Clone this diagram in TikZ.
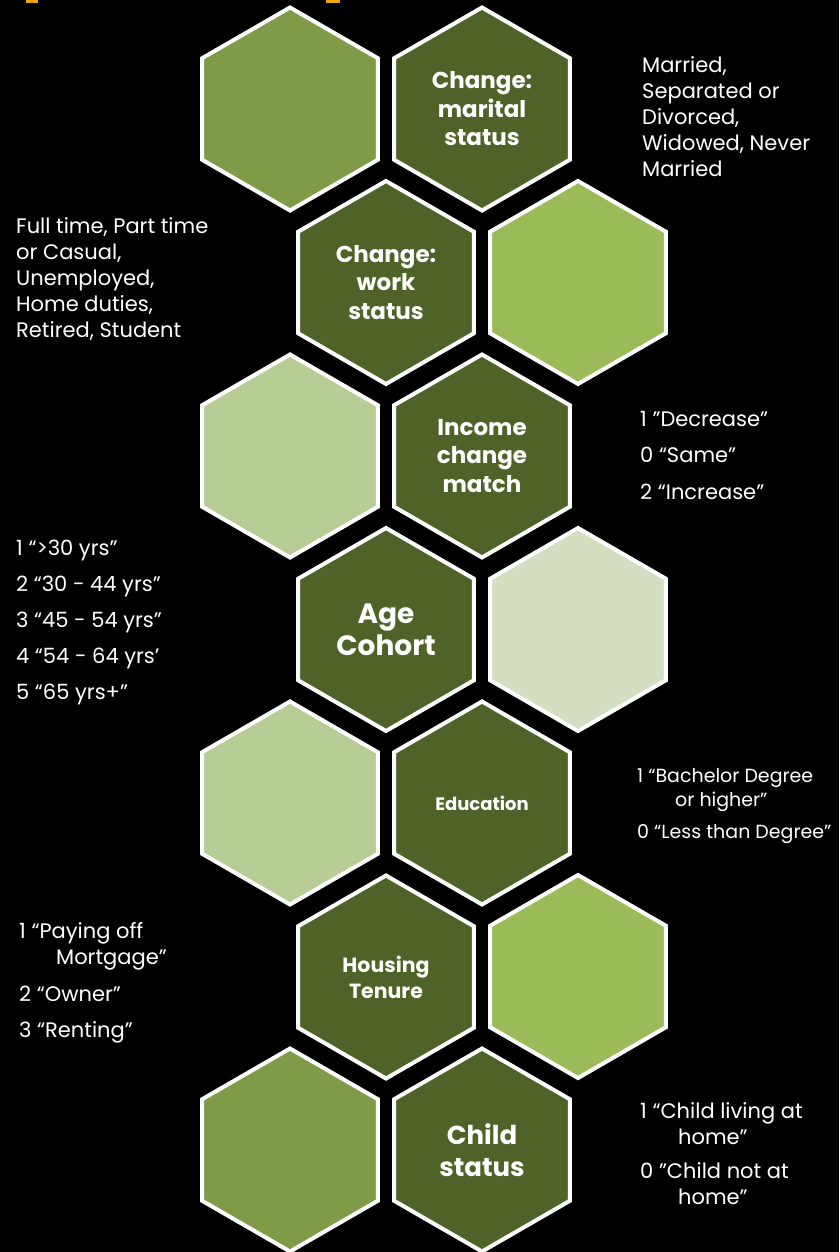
\documentclass[tikz,border=0pt]{standalone}
\usepackage{fontspec}
\setmainfont{Poppins}
\usetikzlibrary{shapes.geometric, positioning}

\definecolor{olivedark}{HTML}{4F6228}
\definecolor{olivemid}{HTML}{7F9B48}
\definecolor{olivelight}{HTML}{9BBB59}
\definecolor{olivepale}{HTML}{B8CC96}
\definecolor{olivefaint}{HTML}{D3DFC0}
\definecolor{titleorange}{HTML}{F0A800}

\begin{document}
\begin{tikzpicture}[
            x=1pt, y=-1pt,
            hexa/.style={regular polygon, regular polygon sides=6, shape border rotate=30, minimum size=203pt, inner sep=0pt, draw=white, line width=4pt},
            topic/.style={hexa, fill=olivedark, text=white, align=center},
            note/.style={anchor=north west, inner sep=0pt, text=white, align=left, font=\fontsize{21}{26}\selectfont}
            ]

            \fill[black] (0,0) rectangle (839,1252);
            \useasboundingbox (0,0) rectangle (839,1252);
            \fill[titleorange] (26,0) rectangle (38,3);
            \fill[titleorange] (326,0) rectangle (340,3);

            \node (hexa1) [hexa, fill=olivemid] at (290,109) {};
            \node (marital) [topic, font=\bfseries\fontsize{23}{28.5}\selectfont] at (482,109) {Change:\\marital\\status};
            \node (work) [topic, font=\bfseries\fontsize{23}{28.5}\selectfont] at (386,282.5) {Change:\\work\\status};
            \node (hexa2) [hexa, fill=olivelight] at (578,282.5) {};
            \node (hexa3) [hexa, fill=olivepale] at (290,456) {};
            \node (income) [topic, font=\bfseries\fontsize{23}{28.5}\selectfont] at (482,456) {Income\\change\\match};
            \node (age) [topic, font=\bfseries\fontsize{28}{32}\selectfont] at (386,629.5) {Age\\Cohort};
            \node (hexa4) [hexa, fill=olivefaint] at (578,629.5) {};
            \node (hexa5) [hexa, fill=olivepale] at (290,803) {};
            \node (edu) [topic, font=\bfseries\fontsize{18}{20}\selectfont] at (482,803) {Education};
            \node (housing) [topic, font=\bfseries\fontsize{20.5}{26}\selectfont] at (386,977) {Housing\\Tenure};
            \node (hexa6) [hexa, fill=olivelight] at (578,976.5) {};
            \node (hexa7) [hexa, fill=olivemid] at (290,1150) {};
            \node (child) [topic, font=\bfseries\fontsize{26}{32}\selectfont] at (482,1150) {Child\\status};

            % value lists beside the hexagons
            \node (maritalnote) [note] at (642,56) {Married,\\Separated or\\Divorced,\\Widowed, Never\\Married};
            \node (worknote) [note] at (16,217) {Full time, Part time\\or Casual,\\Unemployed,\\Home duties,\\Retired, Student};
            \node (incomenote) [note] at (640,411) {1 ”Decrease”\\[10.5pt]0 “Same”\\[10.5pt]2 “Increase”};
            \node (agenote) [note] at (16,540) {1 “>30 yrs”\\[10pt]2 “30 - 44 yrs”\\[10pt]3 “45 - 54 yrs”\\[10pt]4 “54 - 64 yrs’\\[10pt]5 “65 yrs+”};
            \node (edunote) [note, font=\fontsize{19}{24}\selectfont] at (637,768) {1 “Bachelor Degree\\\hspace*{38pt}or higher”\\[8pt]0 “Less than Degree”};
            \node (housingnote) [note] at (19,922) {1 “Paying off\\\hspace*{37pt}Mortgage”\\[11pt]2 “Owner”\\[10pt]3 “Renting”};
            \node (childnote) [note] at (640,1102) {1 “Child living at\\\hspace*{38pt}home”\\[8pt]0 ”Child not at\\\hspace*{38pt}home”};
        \end{tikzpicture}
\end{document}
